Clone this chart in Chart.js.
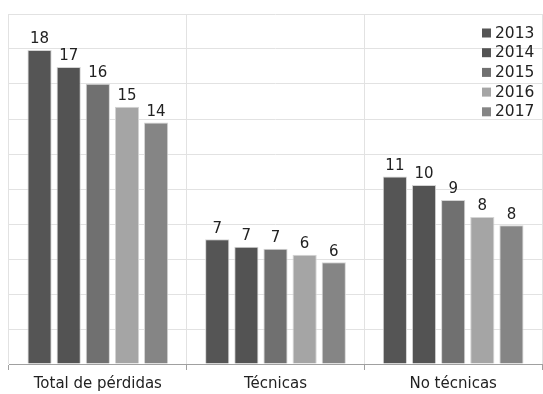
<!DOCTYPE html>
<html>
<head>
<meta charset="utf-8">
<script src="https://cdn.jsdelivr.net/npm/chart.js@4/dist/chart.umd.min.js"></script>
<style>
  html, body { margin: 0; padding: 0; background: #ffffff; }
  #wrap { width: 543px; height: 394px; position: relative; }
</style>
</head>
<body>
<div id="wrap"><canvas id="chart"></canvas></div>
<script>
// Pérdidas de energía por tipo, 2013–2017
const categories = ['Total de pérdidas', 'Técnicas', 'No técnicas'];
const years = ['2013', '2014', '2015', '2016', '2017'];
const values2013 = [17.95, 7.13, 10.72];
const values2014 = [16.97, 6.70, 10.23];
const values2015 = [16.02, 6.59, 9.37];
const values2016 = [14.70, 6.25, 8.40];
const values2017 = [13.80, 5.81, 7.93];
const seriesColors = ['#555555', '#535353', '#707070', '#a5a5a5', '#858585'];
const yMax = 20;
const yStep = 2;

const seriesValues = [values2013, values2014, values2015, values2016, values2017];
const FONT = '"DejaVu Sans", sans-serif';

// Rounded value printed above each bar
const barLabels = {
  id: 'barLabels',
  afterDatasetsDraw(chart) {
    const ctx = chart.ctx;
    ctx.save();
    ctx.font = '15px ' + FONT;
    ctx.fillStyle = '#222222';
    ctx.textAlign = 'center';
    ctx.textBaseline = 'bottom';
    chart.data.datasets.forEach((ds, i) => {
      chart.getDatasetMeta(i).data.forEach((bar, j) => {
        ctx.fillText(String(Math.round(ds.data[j])), bar.x, bar.y - 3);
      });
    });
    ctx.restore();
  }
};

// Vertical legend in the upper right corner of the plot
const cornerLegend = {
  id: 'cornerLegend',
  afterDraw(chart) {
    const ctx = chart.ctx;
    ctx.save();
    ctx.font = '15.5px ' + FONT;
    ctx.textBaseline = 'middle';
    ctx.textAlign = 'left';
    chart.data.datasets.forEach((ds, i) => {
      const cy = 33 + i * 19.7;
      ctx.fillStyle = ds.backgroundColor;
      ctx.fillRect(482, cy - 4.5, 9, 9);
      ctx.fillStyle = '#222222';
      ctx.fillText(ds.label, 495, cy + 0.5);
    });
    ctx.restore();
  }
};

new Chart(document.getElementById('chart'), {
  type: 'bar',
  data: {
    labels: categories,
    datasets: years.map((y, i) => ({
      label: y,
      data: seriesValues[i],
      backgroundColor: seriesColors[i],
      borderColor: '#d4d4d4',
      borderWidth: 1,
      categoryPercentage: 0.82,
      barPercentage: 0.83
    }))
  },
  options: {
    responsive: true,
    maintainAspectRatio: false,
    animation: false,
    layout: { padding: { left: 9, top: 14, right: 1, bottom: -4 } },
    plugins: {
      legend: { display: false },
      tooltip: { enabled: false }
    },
    scales: {
      x: {
        offset: true,
        grid: {
          offset: true,
          color: '#e2e2e2',
          tickColor: '#a0a0a0',
          tickLength: 6,
          drawTicks: true
        },
        border: { display: true, color: '#a0a0a0', width: 1 },
        ticks: {
          color: '#222222',
          font: { family: FONT, size: 15 },
          padding: 5,
          maxRotation: 0
        }
      },
      y: {
        min: 0,
        max: yMax,
        ticks: { display: false, stepSize: yStep },
        grid: { color: '#e2e2e2', drawTicks: false },
        border: { display: false }
      }
    }
  },
  plugins: [barLabels, cornerLegend]
});
</script>
</body>
</html>
